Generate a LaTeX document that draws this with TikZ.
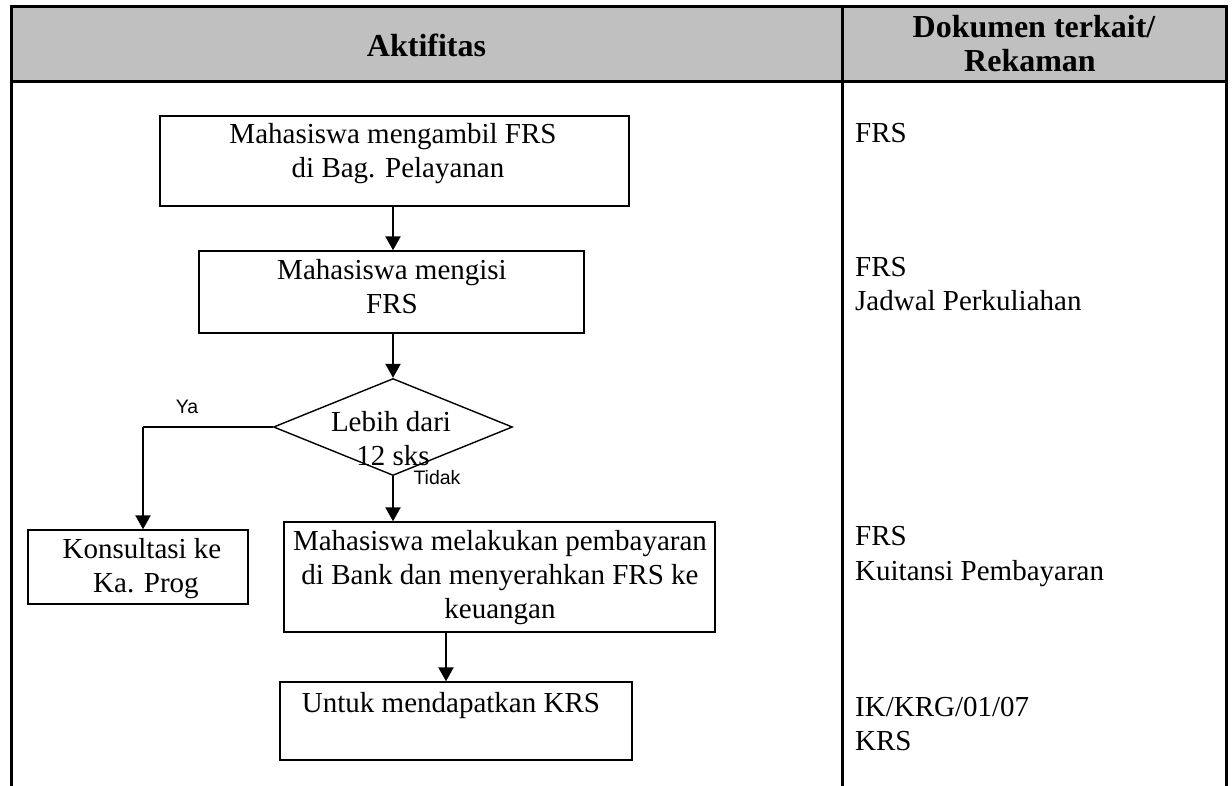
\documentclass[tikz,border=0pt]{standalone}
\usepackage{fontspec}
\setmainfont{Liberation Serif}
\newfontfamily\arialfont{Liberation Sans}
\usetikzlibrary{arrows.meta,shapes.geometric}
\definecolor{hdr}{RGB}{192,192,192}
\tikzset{
  tbl/.style={line width=3pt, line cap=rect},
  box/.style={draw, line width=1.4pt, rectangle, inner sep=0pt},
  dia/.style={draw, line width=1.4pt, diamond, inner sep=0pt},
  txt/.style={inner sep=0pt, anchor=base, font=\fontsize{29}{34}\selectfont},
  ltxt/.style={inner sep=0pt, anchor=base west, font=\fontsize{29}{34}\selectfont},
  htxt/.style={inner sep=0pt, anchor=base, font=\fontsize{32}{36}\selectfont\bfseries},
  lbl/.style={inner sep=0pt, font=\arialfont\fontsize{19.5}{22}\selectfont},
  arr/.style={line width=2.4pt, -{Triangle[length=14pt,width=15pt]}},
  conn/.style={line width=2.4pt}
}
\begin{document}
\begin{tikzpicture}[x=1pt,y=-1pt]
\useasboundingbox (0,0) rectangle (1232,785);
% table
\draw[tbl, fill=hdr] (11,6) rectangle (1226,81);
\draw[tbl] (11,81) -- (11,790);
\draw[tbl] (842,6) -- (842,790);
\draw[tbl] (1226,81) -- (1226,790);
\node[htxt] (h1) at (426.5,56) {Aktifitas};
\node[htxt] (h2) at (1034,37) {Dokumen terkait/};
\node[htxt] (h3) at (1030,71) {Rekaman};
% boxes
\node[box, minimum width=469pt, minimum height=90pt] (b1) at (394.5,161) {};
\node[txt] (t1a) at (393,143) {Mahasiswa mengambil FRS};
\node[txt] (t1b) at (398,177) {di Bag. Pelayanan};
\node[box, minimum width=385pt, minimum height=82pt] (b2) at (391.5,292) {};
\node[txt] (t2a) at (392,279) {Mahasiswa mengisi};
\node[txt] (t2b) at (392,313) {FRS};
\node[dia, minimum width=239pt, minimum height=97pt] (d) at (393,427) {};
\node[txt] (tda) at (391,431) {Lebih dari};
\node[txt] (tdb) at (393,465) {12 sks};
\node[lbl] (ya) at (187,407) {Ya};
\node[lbl] (tidak) at (437,478) {Tidak};
\node[box, minimum width=220pt, minimum height=74pt] (k) at (138,567) {};
\node[txt] (tka) at (142,558) {Konsultasi ke};
\node[txt] (tkb) at (146,592) {Ka. Prog};
\node[box, minimum width=431pt, minimum height=110pt] (b3) at (499.5,577) {};
\node[txt] (t3a) at (500,550) {Mahasiswa melakukan pembayaran};
\node[txt] (t3b) at (500,584) {di Bank dan menyerahkan FRS ke};
\node[txt] (t3c) at (500,618) {keuangan};
\node[box, minimum width=352pt, minimum height=78pt] (b4) at (456,721) {};
\node[txt] (t4a) at (451,712) {Untuk mendapatkan KRS};
% right column
\node[ltxt] (r1) at (855,142) {FRS};
\node[ltxt] (r2) at (855,276) {FRS};
\node[ltxt] (r3) at (855,310) {Jadwal Perkuliahan};
\node[ltxt] (r4) at (855,545) {FRS};
\node[ltxt] (r5) at (855,580) {Kuitansi Pembayaran};
\node[ltxt] (r6) at (855,716) {IK/KRG/01/07};
\node[ltxt] (r7) at (855,750) {KRS};
% connectors
\draw[arr] (d.north |- b1.south) -- (d.north |- b2.north);
\draw[arr] (d.north |- b2.south) -- (d.north);
\draw[arr] (d.south) -- (d.south |- b3.north);
\coordinate (yc) at (143,427);
\draw[conn] (d.west) -- (yc);
\draw[arr] (yc) -- (yc |- k.north);
\coordinate (c34) at (446,632);
\draw[arr] (c34) -- (c34 |- b4.north);
\end{tikzpicture}
\end{document}
